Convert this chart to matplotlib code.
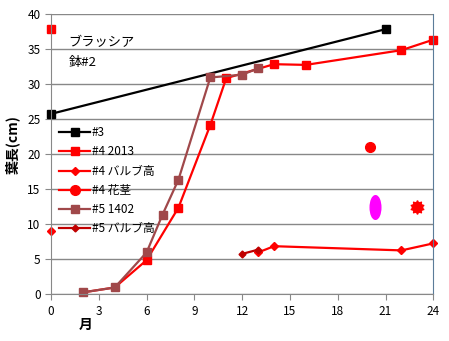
import numpy as np
import matplotlib
matplotlib.use("Agg")
import matplotlib.pyplot as plt
from matplotlib.path import Path

plt.rcParams['font.family'] = ['Noto Sans CJK JP', 'DejaVu Sans']

# 月 / 葉長(cm)
x3 = [0, 21]
y3 = [25.8, 37.9]

x4 = [0, np.nan, 2, 4, 6, 8, 10, 11, 14, 16, 22, 24]
y4 = [37.9, np.nan, 0.3, 1.0, 4.9, 12.4, 24.2, 30.9, 32.9, 32.8, 34.9, 36.4]

x4b = [0, np.nan, 13, 14, 22, 24]
y4b = [9.0, np.nan, 6.0, 6.9, 6.3, 7.3]

x4f = [20]
y4f = [21.0]

x5 = [2, 4, 6, 7, 8, 10, 12, 13]
y5 = [0.3, 1.0, 6.0, 11.4, 16.4, 31.0, 31.4, 32.3]

x5b = [12, 13]
y5b = [5.8, 6.4]

# 印 (凡例なし)
x_pink = [20.35]
y_pink = [12.45]
x_star = [23.0]
y_star = [12.45]

RED = '#FF0000'
BROWN = '#A0484A'
DRED = '#C00000'

# 縦長の楕円マーカー
circ = Path.unit_circle()
ellipse = Path(circ.vertices * [0.45, 1.0], circ.codes)

fig = plt.figure(figsize=(4.49, 3.41), dpi=100)
ax = fig.add_axes([0.1136, 0.1364, 0.8514, 0.8211])

# 4 2013 は markevery で 2,4月のマーカーを隠す
ax.plot(x3, y3, color='black', lw=1.6, marker='s', ms=6, label='#3', clip_on=False)
ax.plot(x4, y4, color=RED, lw=1.6, marker='s', ms=6, label='#4 2013',
        markevery=[0, 4, 5, 6, 7, 8, 9, 10, 11], clip_on=False)
ax.plot(x4b, y4b, color=RED, lw=1.6, marker='D', ms=4, label='#4 バルブ高', clip_on=False)
ax.plot(x4f, y4f, color=RED, lw=1.6, marker='o', ms=7, label='#4 花茎')
ax.plot(x5, y5, color=BROWN, lw=1.6, marker='s', ms=6, label='#5 1402', clip_on=False)
ax.plot(x5b, y5b, color=DRED, lw=1.6, marker='D', ms=3.5, label='#5 バルブ高')

ax.plot(x_pink, y_pink, ls='none', marker=ellipse, ms=17, mfc='#FF00FF', mec='#FF00FF')
ax.plot(x_star, y_star, ls='none', marker=(10, 1, 0), ms=10, color=RED)
ax.plot(x_star, y_star, ls='none', marker='o', ms=7.5, color=RED)

ax.set_xlim(0, 24)
ax.set_ylim(0, 40)
ax.set_xticks(range(0, 25, 3))
ax.set_yticks(range(0, 41, 5))
ax.tick_params(labelsize=8.5, length=4, color='#888888', direction='out')
ax.yaxis.grid(True, color='#888888', lw=1)
ax.set_axisbelow(True)
for s in ['left', 'bottom']:
    ax.spines[s].set_color('#888888')
ax.spines['top'].set_visible(False)
ax.spines['right'].set_color('#5B7C99')

ax.set_ylabel('葉長(cm)', fontsize=10, fontweight='bold')
ax.yaxis.set_label_coords(-0.082, 0.535)
ax.set_xlabel('月', fontsize=10, fontweight='bold')
ax.xaxis.set_label_coords(0.09, -0.085)

ax.text(1.1, 36.0, 'ブラッシア', fontsize=9.5, va='center')
ax.text(1.1, 33.2, '鉢#2', fontsize=9.5, va='center')

leg = ax.legend(loc='upper left', bbox_to_anchor=(0.0, 0.63), frameon=False,
                fontsize=8.5, handlelength=2.6, handletextpad=0.15,
                labelspacing=0.52, borderaxespad=0.3)

fig.savefig('out.png', dpi=100)
